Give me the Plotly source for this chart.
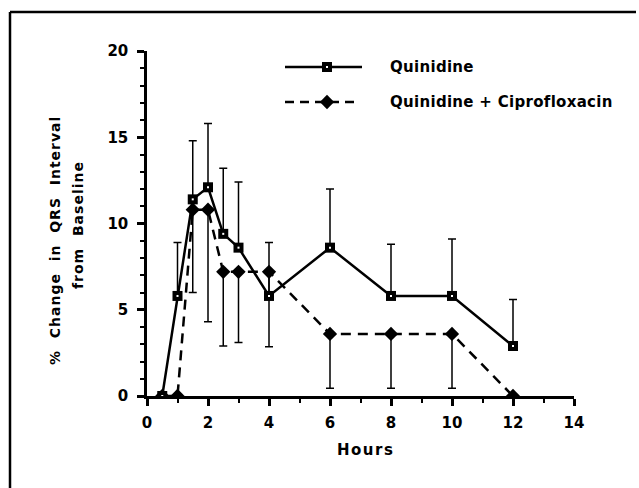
import plotly.graph_objects as go

hours = [0.5, 1, 1.5, 2, 2.5, 3, 4, 6, 8, 10, 12]
quinidine = [0, 5.8, 11.4, 12.1, 9.4, 8.6, 5.8, 8.6, 5.8, 5.8, 2.9]
quinidine_err_up = [0, 3.1, 3.4, 3.7, 3.8, 3.8, 3.1, 3.4, 3.0, 3.3, 2.7]
combo = [0, 0, 10.8, 10.8, 7.2, 7.2, 7.2, 3.6, 3.6, 3.6, 0]
combo_err_down = [0, 0, 4.8, 6.5, 4.3, 4.1, 4.35, 3.15, 3.15, 3.15, 0]
series_names = ["Quinidine", "Quinidine + Ciprofloxacin"]
x_ticks = [0, 2, 4, 6, 8, 10, 12, 14]
y_ticks = [0, 5, 10, 15, 20]

W, H = 639, 488
L, R, T, B = 147, 65, 51, 92
pw, ph = W - L - R, H - T - B
FONT = "DejaVu Sans"

def px(x):
    return (x - L) / pw

def py(y):
    return (H - B - y) / ph

def spaced(s, sp):
    return '<span style="letter-spacing:%spx">%s</span>' % (sp, s)

fig = go.Figure()

zeros = [0] * len(hours)

fig.add_trace(go.Scatter(
    x=hours, y=combo, mode="lines+markers",
    line=dict(color="black", width=2.5, dash="10px,7px"),
    marker=dict(symbol="diamond", size=11, color="black"),
    error_y=dict(type="data", symmetric=False, array=zeros, arrayminus=combo_err_down,
                 color="black", thickness=1.5, width=4),
    showlegend=False,
))
fig.add_trace(go.Scatter(
    x=hours, y=quinidine, mode="lines+markers",
    line=dict(color="black", width=2.5),
    marker=dict(symbol="square", size=10, color="black"),
    error_y=dict(type="data", symmetric=False, array=quinidine_err_up, arrayminus=zeros,
                 color="black", thickness=1.5, width=4),
    showlegend=False,
))
fig.add_trace(go.Scatter(
    x=hours, y=quinidine, mode="markers",
    marker=dict(symbol="square", size=2, color="white"),
    showlegend=False, hoverinfo="skip",
))

# legend samples on pixel overlay axis
leg_y = [67, 102]
fig.add_trace(go.Scatter(
    x=[285, 362], y=[leg_y[0]] * 2, xaxis="x2", yaxis="y2", mode="lines",
    line=dict(color="black", width=2.5), showlegend=False, hoverinfo="skip"))
fig.add_trace(go.Scatter(
    x=[327], y=[leg_y[0]], xaxis="x2", yaxis="y2", mode="markers",
    marker=dict(symbol="square", size=10, color="black"), showlegend=False, hoverinfo="skip"))
fig.add_trace(go.Scatter(
    x=[327], y=[leg_y[0]], xaxis="x2", yaxis="y2", mode="markers",
    marker=dict(symbol="square", size=2, color="white"), showlegend=False, hoverinfo="skip"))
fig.add_trace(go.Scatter(
    x=[285, 358], y=[leg_y[1]] * 2, xaxis="x2", yaxis="y2", mode="lines",
    line=dict(color="black", width=2.5, dash="9px,6px"), showlegend=False, hoverinfo="skip"))
fig.add_trace(go.Scatter(
    x=[327], y=[leg_y[1]], xaxis="x2", yaxis="y2", mode="markers",
    marker=dict(symbol="diamond", size=11, color="black"), showlegend=False, hoverinfo="skip"))

for name, yy in zip(series_names, leg_y):
    fig.add_annotation(x=388, y=yy, xref="x2", yref="y2", text=spaced(name, 0.3),
                       showarrow=False, xanchor="left", yanchor="middle",
                       font=dict(family=FONT, size=15, color="black", weight="bold"))

# frame lines
fig.add_shape(type="line", xref="paper", yref="paper", x0=px(10), x1=px(10), y0=py(12), y1=py(490),
              line=dict(color="black", width=2.5))
fig.add_shape(type="line", xref="paper", yref="paper", x0=px(10), x1=px(636), y0=py(12), y1=py(12),
              line=dict(color="black", width=2.5))

# axis titles
fig.add_annotation(xref="paper", yref="paper", x=px(365), y=py(450), text=spaced("Hours", 1.5),
                   xanchor="center", yanchor="middle",
                   showarrow=False, font=dict(family=FONT, size=15, color="black", weight="bold"))
fig.add_annotation(xref="paper", yref="paper", x=px(55), y=py(241),
                   text=spaced("%\u00a0 Change\u00a0 in\u00a0 QRS\u00a0 Interval", 1.0), textangle=-90,
                   xanchor="center", yanchor="middle",
                   showarrow=False, font=dict(family=FONT, size=14, color="black", weight="bold"))
fig.add_annotation(xref="paper", yref="paper", x=px(78), y=py(225),
                   text=spaced("from\u00a0 Baseline", 1.0), textangle=-90,
                   xanchor="center", yanchor="middle",
                   showarrow=False, font=dict(family=FONT, size=14, color="black", weight="bold"))

tickfont = dict(family=FONT, size=15, color="black", weight="bold")
fig.update_layout(
    width=W, height=H,
    margin=dict(l=L, r=R, t=T, b=B),
    paper_bgcolor="white", plot_bgcolor="white",
    xaxis=dict(range=[0, 14], tickvals=x_ticks, ticktext=[str(v) for v in x_ticks],
               showgrid=False, zeroline=False, showline=True, linecolor="black", linewidth=2.5,
               ticks="outside", ticklen=7, tickwidth=2.5, tickcolor="black", ticklabelstandoff=4,
               minor=dict(dtick=1, tick0=0, ticks="outside", ticklen=4, tickwidth=2, tickcolor="black"),
               tickfont=tickfont),
    yaxis=dict(range=[0, 20], tickvals=y_ticks, ticktext=[str(v) for v in y_ticks],
               showgrid=False, zeroline=False, showline=True, linecolor="black", linewidth=2.5,
               ticks="outside", ticklen=7, tickwidth=2.5, tickcolor="black", ticklabelstandoff=6,
               minor=dict(dtick=1, tick0=0, ticks="outside", ticklen=4, tickwidth=2, tickcolor="black"),
               tickfont=tickfont),
    xaxis2=dict(overlaying="x", range=[L, W - R], visible=False, fixedrange=True),
    yaxis2=dict(overlaying="y", range=[H - B, T], visible=False, fixedrange=True),
)

fig.write_html("out.html", config={"displayModeBar": False},
               post_script="document.body.style.margin='0';document.body.style.overflow='hidden';")
